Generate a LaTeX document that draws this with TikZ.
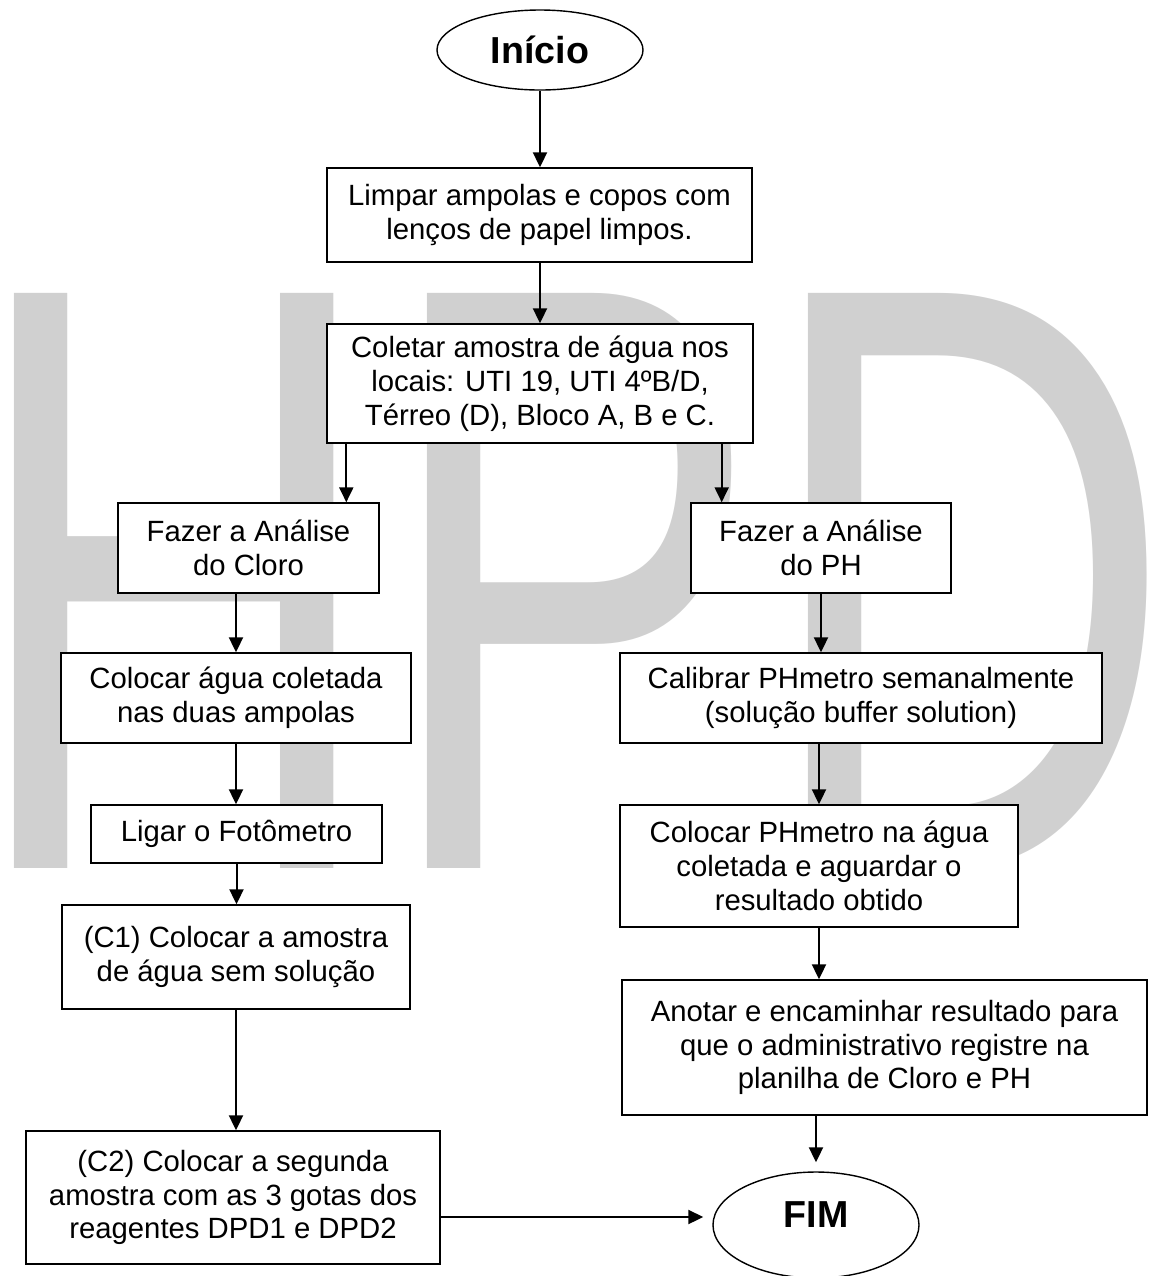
\documentclass[tikz,border=0pt]{standalone}
\usepackage{fontspec}
\setmainfont{Liberation Sans}
\usetikzlibrary{arrows.meta,shapes.geometric}
\definecolor{markgray}{RGB}{208,208,208}

\begin{document}
\begin{tikzpicture}[
  x=0.5pt, y=-0.5pt,
  box/.style={draw,fill=white,line width=0.7pt,align=center,inner sep=0pt,font=\fontsize{14.65}{16.9}\selectfont},
  term/.style={draw,fill=white,ellipse,line width=0.7pt,inner sep=0pt,font=\fontsize{18.8}{20}\selectfont\bfseries},
  arr/.style={-{Triangle[length=7.5pt,width=7pt]},line width=1pt}
]
  \useasboundingbox (0,0) rectangle (1149,1276);

  % watermark behind the chart
  \node[text=markgray,anchor=base,inner sep=0pt,font=\fontsize{418}{418}\selectfont] (mark) at (571,868) {\scalebox{0.684}[1]{HPD}};

  \node[term,minimum width=103pt,minimum height=40pt] (inicio) at (540,50) {Início};
  \node[box,minimum width=212.5pt,minimum height=47pt] (limpar) at (539.5,215)
    {Limpar ampolas e copos com\\lenços de papel limpos.};
  \node[box,minimum width=213pt,minimum height=59.5pt] (coletar) at (540,383.5)
    {Coletar amostra de água nos\\locais: UTI 19, UTI 4ºB/D,\\Térreo (D), Bloco A, B e C.};

  % ramo do cloro
  \node[box,minimum width=130.5pt,minimum height=45pt] (cloro) at (248.5,548)
    {Fazer a Análise\\do Cloro};
  \node[box,minimum width=175pt,minimum height=45pt] (agua) at (236,698)
    {Colocar água coletada\\nas duas ampolas};
  \node[box,minimum width=145.5pt,minimum height=29pt] (ligar) at (236.5,834)
    {Ligar o Fotômetro};
  \node[box,minimum width=174pt,minimum height=52pt] (cum) at (236,957)
    {(C1) Colocar a amostra\\de água sem solução};
  \node[box,minimum width=207pt,minimum height=66.5pt] (cdois) at (233,1197.5)
    {(C2) Colocar a segunda\\amostra com as 3 gotas dos\\reagentes DPD1 e DPD2};

  % ramo do PH
  \node[box,minimum width=130pt,minimum height=45pt] (ph) at (821,548)
    {Fazer a Análise\\do PH};
  \node[box,minimum width=241pt,minimum height=45pt] (calib) at (861,698)
    {Calibrar PHmetro semanalmente\\(solução buffer solution)};
  \node[box,minimum width=199pt,minimum height=61pt] (colph) at (819,866)
    {Colocar PHmetro na água\\coletada e aguardar o\\resultado obtido};
  \node[box,minimum width=262.5pt,minimum height=67.5pt] (anotar) at (884.5,1047.5)
    {Anotar e encaminhar resultado para\\que o administrativo registre na\\planilha de Cloro e PH};

  \node[term,minimum width=103pt,minimum height=53pt,text depth=10pt] (fim) at (816,1225) {FIM};

  \coordinate (toCloro) at ([xshift=10pt]coletar.south west);
  \coordinate (toPH) at ([xshift=-16pt]coletar.south east);
  \coordinate (toFim) at ([yshift=-9.75pt]cdois.east);

  \draw[arr] (inicio.south) -- (inicio.south |- limpar.north);
  \draw[arr] (limpar.south -| inicio.south) -- (inicio.south |- coletar.north);
  \draw[arr] (toCloro) -- (toCloro |- cloro.north);
  \draw[arr] (toPH) -- (toPH |- ph.north);
  \draw[arr] (cloro.south -| agua.north) -- (agua.north);
  \draw[arr] (agua.south) -- (agua.south |- ligar.north);
  \draw[arr] (ligar.south) -- (ligar.south |- cum.north);
  \draw[arr] (cum.south) -- (cum.south |- cdois.north);
  \draw[arr] (ph.south) -- (ph.south |- calib.north);
  \draw[arr] (calib.south -| colph.north) -- (colph.north);
  \draw[arr] (colph.south) -- (colph.south |- anotar.north);
  \draw[arr,shorten >=4.5pt] (anotar.south -| fim.north) -- (fim.north);
  \draw[arr,shorten >=4.5pt] (toFim) -- (toFim -| fim.west);
\end{tikzpicture}
\end{document}
